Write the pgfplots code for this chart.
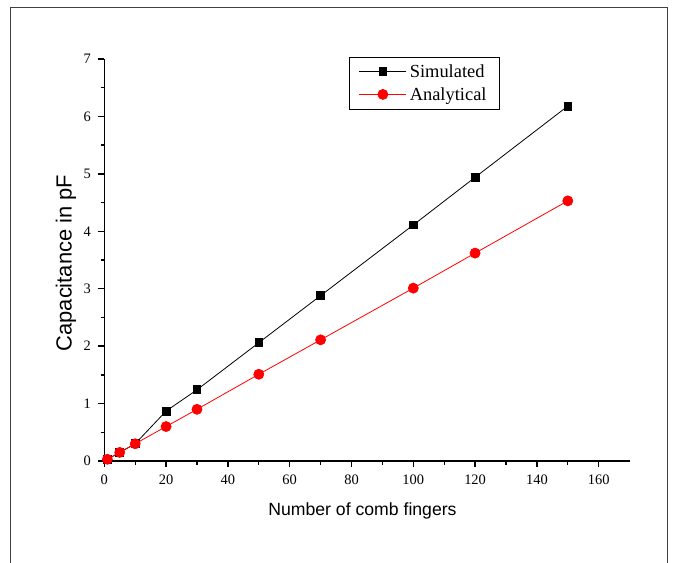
\documentclass[border=0pt]{standalone}
\usepackage{pgfplots}
\pgfplotsset{compat=1.18}
\usepackage{fontspec}
\setmainfont{Liberation Serif}
\newfontfamily\arial{Liberation Sans}
\begin{document}
\begin{tikzpicture}[x=1bp,y=1bp]
\useasboundingbox (-104.3bp,-102bp) rectangle (569.7bp,461bp);
\draw[line width=1bp, black!75] (-93.3bp,-103bp) -- (-93.3bp,453bp) -- (562.7bp,453bp) -- (562.7bp,-103bp);
\begin{axis}[
  at={(0,0)}, anchor=origin,
  scale only axis, width=525.3bp, height=402bp,
  xmin=0, xmax=170, ymin=0, ymax=7,
  axis x line*=bottom, axis y line*=left,
  axis line style={-, line width=1.3bp},
  every tick/.style={black, line width=1.3bp},
  tick align=outside,
  major tick length=6bp, minor tick length=3.5bp,
  xtick={0,20,...,160}, ytick={0,1,...,7},
  minor x tick num=1, minor y tick num=1,
  /pgf/number format/assume math mode=true,
  tick label style={font=\fontsize{14.5}{16}\selectfont},
  xticklabel style={yshift=-4bp},
  yticklabel style={xshift=-4bp},
  xlabel={Number of comb fingers},
  ylabel={Capacitance in pF},
  xlabel style={font=\arial\fontsize{17.7}{20}\selectfont, at={(axis description cs:0.4915,-0.124)}, anchor=center},
  ylabel style={font=\arial\fontsize{22}{24}\selectfont, at={(axis description cs:-0.0729,0.4925)}, anchor=center},
  clip=false,
  legend style={at={(0.466,1.006)}, anchor=north west, draw=black, line width=0.8bp,
    font=\fontsize{18.5}{20}\selectfont, row sep=4.5bp, inner xsep=9.5bp, inner ysep=5.5bp,
    nodes={inner xsep=3bp, inner ysep=2bp}},
  legend cell align=left,
  legend image code/.code={\draw[mark repeat=2,mark phase=2,#1] plot coordinates {(0bp,0bp) (23.5bp,0bp) (47bp,0bp)};},
]
\addplot[black, line width=0.8bp, mark=square*, mark size=3.9bp, mark options={solid}] coordinates {
(1,0.03) (5,0.15) (10,0.30) (20,0.87) (30,1.24) (50,2.06) (70,2.88) (100,4.11) (120,4.94) (150,6.18)};
\addlegendentry{Simulated}
\addplot[red, line width=0.8bp, mark=*, mark size=5bp, mark options={solid}] coordinates {
(1,0.03) (5,0.15) (10,0.30) (20,0.60) (30,0.90) (50,1.51) (70,2.11) (100,3.01) (120,3.62) (150,4.53)};
\addlegendentry{Analytical}
\end{axis}
\end{tikzpicture}
\end{document}
